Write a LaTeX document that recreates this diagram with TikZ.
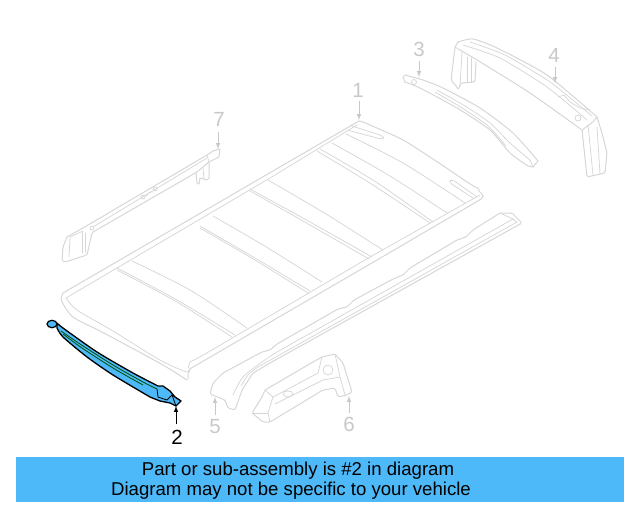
\documentclass[tikz,border=0pt]{standalone}
\usepackage{fontspec}
\setmainfont{Liberation Sans}
\usetikzlibrary{arrows.meta}
\definecolor{partgray}{HTML}{D6D6D6}
\definecolor{labelgray}{HTML}{C8C8C8}
\definecolor{hiliteblue}{HTML}{4DB9F8}
\tikzset{
  part/.style={draw=partgray,line width=1pt,line join=round,line cap=round},
  thin part/.style={draw=partgray,line width=0.75pt,line join=round,line cap=round},
  callout/.style={font=\fontsize{20.5}{20.5}\selectfont,text=labelgray,inner sep=0pt},
  leader/.style={-latex,draw=labelgray,line width=1pt},
  banner text/.style={font=\fontsize{18.6}{18.6}\selectfont,text=black,inner sep=0pt}
}
\begin{document}
\begin{tikzpicture}[x=1pt,y=-1pt]
    \useasboundingbox (0,0) rectangle (640,512);
    % roof panel
    \draw[part,rounded corners=2pt] plot[smooth,tension=.35] coordinates {(363,122) (403,140) (445,167) (478,190)} -- (483,195) -- (483,198) -- (377,260) -- (200,363) -- (188,370) -- (188,379);
    \draw[part] (359,121) -- (63,293) -- (61,298) -- (62,302);
    \draw[part] (359,121) -- (363,122);
    \draw[part] plot[smooth,tension=.5] coordinates {(62,302) (73,317) (100,331) (130,347) (163,365) (187,380)};
    \draw[thin part] plot[smooth,tension=.5] coordinates {(66,298) (77,310) (113,331) (160,360) (187,372) (190,368)};
    \draw[thin part] (357,125) -- (270,178) -- (66,298);
    \draw[thin part] (480,195) -- (370,257) -- (200,357) -- (190,362) -- (188,368);
    % slots in the roof
    \draw[thin part,rounded corners=2pt] (352,126) -- (383,136) -- (384,139) -- (381,139) -- (347,130);
    \draw[thin part,rounded corners=2pt] (477,197) -- (453,180) -- (450,180) -- (450,183) -- (473,198);
    % ribs
    \draw[thin part] plot[smooth] coordinates {(346,134) (403,163) (465,203)};
    \draw[thin part] plot[smooth] coordinates {(332,143) (390,176) (447,213)};
    \draw[thin part] plot[smooth] coordinates {(320,149) (376,182) (433,222)};
    \draw[thin part] plot[smooth] coordinates {(317,151) (373,185) (430,223)};
    \draw[thin part] plot[smooth] coordinates {(268,180) (326,214) (383,250)};
    \draw[thin part] plot[smooth] coordinates {(250,189) (310,222) (372,257)};
    \draw[thin part] plot[smooth] coordinates {(250,191) (310,225) (369,259)};
    \draw[thin part] plot[smooth] coordinates {(213,216) (268,248) (322,282)};
    \draw[thin part] plot[smooth] coordinates {(200,226) (255,258) (310,291)};
    \draw[thin part] plot[smooth] coordinates {(200,228) (255,260) (308,293)};
    \draw[thin part] plot[smooth] coordinates {(132,261) (190,290) (247,328)};
    \draw[thin part] plot[smooth] coordinates {(117,268) (177,300) (235,335)};
    \draw[thin part] plot[smooth] coordinates {(117,270) (177,302) (232,337)};
    % part 7
    \draw[part] (67,237) -- (83,228) -- (207,155) -- (213,151) -- (220,149) -- (219,157) -- (209,162) -- (197,172) -- (93,232);
    \draw[part,rounded corners=1.5pt] (67,237) -- (63,247) -- (62,261) -- (65,262) -- (87,255) -- (92,233) -- (93,232);
    \draw[thin part] (93,227) -- (207,158);
    \draw[thin part] (209,162) -- (207,155);
    \draw[thin part] (70,237) -- (69,257);
    \draw[thin part] (82,232) -- (82,253);
    \draw[thin part] (85,233) -- (85,252);
    \draw[thin part] (70,237) -- (83,231);
    \draw[thin part] (92,228) circle (2);
    \draw[thin part] (143,197) circle (2);
    \draw[thin part] (155,189) circle (2);
    \draw[thin part] (146,196) -- (150,192) -- (153,192);
    \draw[part] (196,172) -- (197,183) -- (199,184) -- (200,178) -- (207,180) -- (209,178) -- (209,163);
    \draw[thin part] (203,168) -- (204,179);
    % part 3
    \draw[part] plot[smooth,tension=.4] coordinates {(405,82) (420,88) (457,108) (490,130) (510,153) (528,166)} -- (533,167) -- (538,161);
    \draw[part] plot[smooth,tension=.4] coordinates {(538,161) (513,133) (480,108) (443,88) (423,80) (405,75)} -- (403,77) -- (405,82);
    \draw[thin part] (414,82) circle (2.5);
    \draw[thin part] plot[smooth] coordinates {(437,90) (465,106) (490,123) (510,143) (530,160)};
    \draw[thin part] plot[smooth] coordinates {(435,92) (462,108) (488,126) (506,146)};
    \draw[thin part] (530,160) -- (533,167);
    % part 4
    \draw[part] plot[smooth,tension=.4] coordinates {(458,42) (473,39) (497,48) (547,75) (597,117)};
    \draw[part,rounded corners=1.5pt] (458,42) -- (455,47) -- (451,80) -- (457,87) -- (458,90) -- (461,83) -- (475,82) -- (476,62);
    \draw[part] plot[smooth,tension=.4] coordinates {(460,50) (477,60) (530,93) (582,130)};
    \draw[thin part] plot[smooth,tension=.4] coordinates {(463,45) (500,58) (547,87) (587,120)};
    \draw[thin part] plot[smooth,tension=.4] coordinates {(470,42) (505,55) (550,82) (592,116)};
    \draw[thin part] (455,47) -- (460,50);
    \draw[thin part] (462,52) -- (460,87);
    \draw[thin part] (467,57) -- (467,83);
    \draw[thin part] (471,58) -- (471,82);
    \draw[part,rounded corners=1.5pt] (597,117) -- (593,122) -- (582,130) -- (587,177) -- (605,173) -- (607,153) -- (602,133) -- (597,117);
    \draw[thin part] (588,125) -- (593,175);
    \draw[thin part] (597,127) -- (600,174);
    \draw[thin part] (558,97) -- (564,95) -- (570,102) -- (580,108) -- (590,110);
    \draw[thin part] (578,118) circle (3);
    % part 5
    \draw[part,rounded corners=1.5pt] (210,394) -- (213,383) -- (223,373) -- (262,352) -- (270,350) -- (277,344) -- (338,309) -- (347,307) -- (354,300) -- (393,279) -- (403,275) -- (410,268) -- (457,240) -- (466,237) -- (473,230) -- (500,213) -- (512,213) -- (522,223) -- (270,363) -- (253,373) -- (242,390) -- (235,410) -- (228,408) -- (225,400) -- cycle;
    \draw[thin part] plot[smooth,tension=.5] coordinates {(233,395) (243,377) (262,362) (277,352)} -- (513,219);
    \draw[thin part] plot[smooth,tension=.5] coordinates {(241,386) (248,375) (258,367)} -- (517,222);
    \draw[thin part] (500,213) -- (513,219) -- (517,222);
    % part 6
    \draw[part,rounded corners=1.5pt] (252,413) -- (262,397) -- (265,390) -- (313,362) -- (322,357) -- (335,354) -- (343,363) -- (352,392) -- (347,395) -- (338,397) -- (335,388) -- (323,390) -- (270,422) -- (263,422) -- (257,417) -- cycle;
    \draw[thin part] (265,390) -- (273,397) -- (268,413) -- (270,422);
    \draw[thin part] (252,413) -- (268,413);
    \draw[thin part] (273,397) -- (318,373) -- (322,357);
    \draw[thin part] (275,404) -- (323,380) -- (340,377);
    \draw[thin part] (335,354) -- (340,377) -- (345,395);
    \draw[thin part] (328,370) circle (5);
    \draw[thin part] (288,394) ellipse (5 and 3);
    % part 2
    \draw[draw=black,fill=hiliteblue,line width=1.3pt,line join=round] plot[smooth,tension=.4] coordinates {(57,323) (63,328) (97,352) (133,373) (158,386)} -- (163,386) -- (170,391) -- (175,397) -- (181,401) -- (176,406) -- (170,403) -- (160,401) -- plot[smooth,tension=.4] coordinates {(150,397) (113,375) (87,357) (63,337) (57,328)} -- cycle;
    \draw[draw=black,fill=hiliteblue,line width=1.2pt] (52,324) ellipse (5 and 3.7);
    \draw[black!70!green,line width=0.8pt] plot[smooth] coordinates {(61,331) (80,344) (113,365) (143,382) (157,389)};
    \draw[black!70!green,line width=0.8pt] plot[smooth] coordinates {(63,334) (82,348) (113,368) (143,385)};
    \draw[black,line width=0.8pt] (157,389) -- (158,397) -- (167,400) -- (172,395) -- (176,406);
    \draw[black,line width=0.8pt] (172,395) -- (181,401);
    % callouts
    \node[callout] (lab1) at (358,90) {1};
    \node[callout] (lab3) at (419,49) {3};
    \node[callout] (lab4) at (554,55) {4};
    \node[callout] (lab5) at (215,427) {5};
    \node[callout] (lab6) at (349,424) {6};
    \node[callout] (lab7) at (219,119) {7};
    \node[callout,text=black] (lab2) at (177,437) {2};
    \coordinate (tip1) at (359,120);
    \coordinate (tip2) at (176,406);
    \coordinate (tip3) at (419,77);
    \coordinate (tip4) at (555,83);
    \coordinate (tip5) at (215,397);
    \coordinate (tip6) at (349,396);
    \coordinate (tip7) at (218,149);
    \draw[leader] (lab1) ++(1,11) -- (tip1);
    \draw[leader,draw=black] (lab2) ++(-1,-13) -- (tip2);
    \draw[leader] (lab3) ++(0,12) -- (tip3);
    \draw[leader] (lab4) ++(1,12) -- (tip4);
    \draw[leader] (lab5) ++(0,-12) -- (tip5);
    \draw[leader] (lab6) ++(0,-11) -- (tip6);
    \draw[leader] (lab7) ++(-1,13) -- (tip7);
    % banner
    \node[fill=hiliteblue,minimum width=608pt,minimum height=45pt,inner sep=0pt] (banner) at (320,479.5) {};
    \node[banner text] (line1) at (298,471) {Part or sub-assembly is \#2 in diagram};
    \node[banner text] (line2) at (291,491) {Diagram may not be specific to your vehicle};
\end{tikzpicture}
\end{document}
